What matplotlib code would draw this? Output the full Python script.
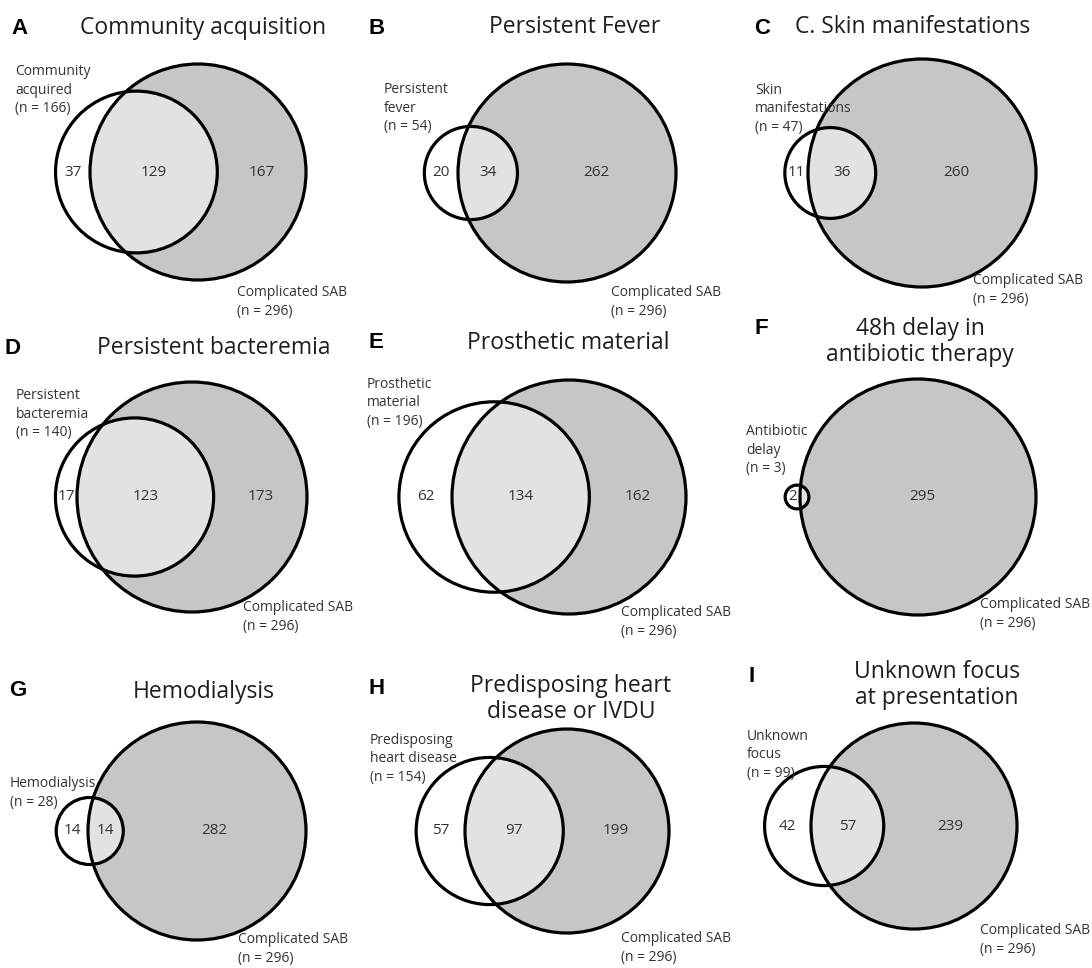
import numpy as np
import matplotlib
matplotlib.use("Agg")
import matplotlib.pyplot as plt
from matplotlib.patches import Circle

# --- datos: un panel por factor, contra SAB complicada (n = 296) ---
letters = ["A", "B", "C", "D", "E", "F", "G", "H", "I"]
titles = ["Community acquisition", "Persistent Fever", "C. Skin manifestations",
          "Persistent bacteremia", "Prosthetic material", "48h delay in\nantibiotic therapy",
          "Hemodialysis", "Predisposing heart\ndisease or IVDU", "Unknown focus\nat presentation"]
set_names = ["Community\nacquired", "Persistent\nfever", "Skin\nmanifestations",
             "Persistent\nbacteremia", "Prosthetic\nmaterial", "Antibiotic\ndelay",
             "Hemodialysis", "Predisposing\nheart disease", "Unknown\nfocus"]
only_factor = [37, 20, 11, 17, 62, 2, 14, 57, 42]
both = [129, 34, 36, 123, 134, 1, 14, 97, 57]
only_sab = [167, 262, 260, 173, 162, 295, 282, 199, 239]
sab_name = "Complicated SAB"

# --- layout en pixeles (figura 1092 x 968) ---
W, H = 1092, 968
big_cx = [198, 567, 922, 192, 569, 918, 197, 567, 914]
big_cy = [172, 173, 173, 497, 497, 497, 831, 831, 826]
big_r = [108, 109, 114, 115, 117, 118, 109, 102, 103]
letter_xy = [(11, 29), (368, 28), (754, 28), (4, 349), (368, 343),
             (754, 329), (9, 691), (368, 688), (749, 676)]
title_xy = [(203, 28), (575, 27), (913, 27), (214, 348), (568, 343),
            (920, 342), (204, 692), (571, 699), (937, 685)]
setlab_xy = [(15, 90), (384, 108), (755, 109), (16, 414), (367, 403),
             (746, 450), (10, 793), (370, 759), (747, 755)]
sablab_xy = [(237, 302), (611, 302), (973, 290), (243, 617), (621, 622),
             (980, 614), (238, 949), (621, 948), (980, 940)]

GRAY = "#c6c6c6"
LIGHT = "#e2e2e2"
TXT = "#1e1e1e"
FONT = ["Open Sans", "DejaVu Sans"]


def lens_area(r1, r2, d):
    if d >= r1 + r2:
        return 0.0
    if d <= abs(r1 - r2):
        return np.pi * min(r1, r2) ** 2
    a1 = r1 ** 2 * np.arccos((d * d + r1 * r1 - r2 * r2) / (2 * d * r1))
    a2 = r2 ** 2 * np.arccos((d * d + r2 * r2 - r1 * r1) / (2 * d * r2))
    a3 = 0.5 * np.sqrt((-d + r1 + r2) * (d + r1 - r2) * (d - r1 + r2) * (d + r1 + r2))
    return a1 + a2 - a3


def center_distance(r1, r2, target):
    lo, hi = abs(r1 - r2), r1 + r2
    for _ in range(80):
        mid = (lo + hi) / 2
        if lens_area(r1, r2, mid) > target:
            lo = mid
        else:
            hi = mid
    return (lo + hi) / 2


fig = plt.figure(figsize=(W / 100, H / 100), dpi=100)
ax = fig.add_axes([0, 0, 1, 1])
ax.set_xlim(0, W)
ax.set_ylim(H, 0)
ax.set_aspect("equal")
ax.axis("off")

for i in range(9):
    n_sab = both[i] + only_sab[i]
    n_fac = both[i] + only_factor[i]
    R = big_r[i]
    r = R * np.sqrt(n_fac / n_sab)
    d = center_distance(R, r, both[i] / n_sab * np.pi * R ** 2)
    cx, cy = big_cx[i], big_cy[i]
    sx = cx - d

    big = Circle((cx, cy), R, facecolor=GRAY, edgecolor="none", zorder=1)
    ax.add_patch(big)
    ax.add_patch(Circle((sx, cy), r, facecolor="white", edgecolor="none", zorder=2))
    ov = Circle((sx, cy), r, facecolor=LIGHT, edgecolor="none", zorder=3)
    ax.add_patch(ov)
    ov.set_clip_path(big)
    ax.add_patch(Circle((cx, cy), R, fill=False, edgecolor="black", lw=2.3, zorder=4))
    ax.add_patch(Circle((sx, cy), r, fill=False, edgecolor="black", lw=2.3, zorder=4))

    # numeros en cada region (centro del tramo sobre la linea de centros)
    edges = [sx - r, cx - R, sx + r, cx + R]
    vals = [only_factor[i], both[i], only_sab[i]]
    for k in range(3):
        if edges[k + 1] - edges[k] < 12:
            continue
        ax.text((edges[k] + edges[k + 1]) / 2, cy, str(vals[k]), ha="center", va="center",
                fontsize=11, color="#333333", family=FONT, zorder=5)

    ax.text(*letter_xy[i], letters[i], ha="left", va="center", fontsize=16,
            fontweight="bold", family=["Liberation Sans", "DejaVu Sans"], color="black")
    ax.text(*title_xy[i], titles[i], ha="center", va="center", fontsize=16.5,
            family=FONT, color=TXT, linespacing=1.08)
    ax.text(*setlab_xy[i], set_names[i] + f"\n(n = {n_fac})", ha="left", va="center",
            fontsize=10, family=FONT, color="#333333", linespacing=1.36, zorder=6)
    ax.text(*sablab_xy[i], sab_name + f"\n(n = {n_sab})", ha="left", va="center",
            fontsize=10, family=FONT, color="#333333", linespacing=1.36, zorder=6)

fig.savefig("out.png", dpi=100)
